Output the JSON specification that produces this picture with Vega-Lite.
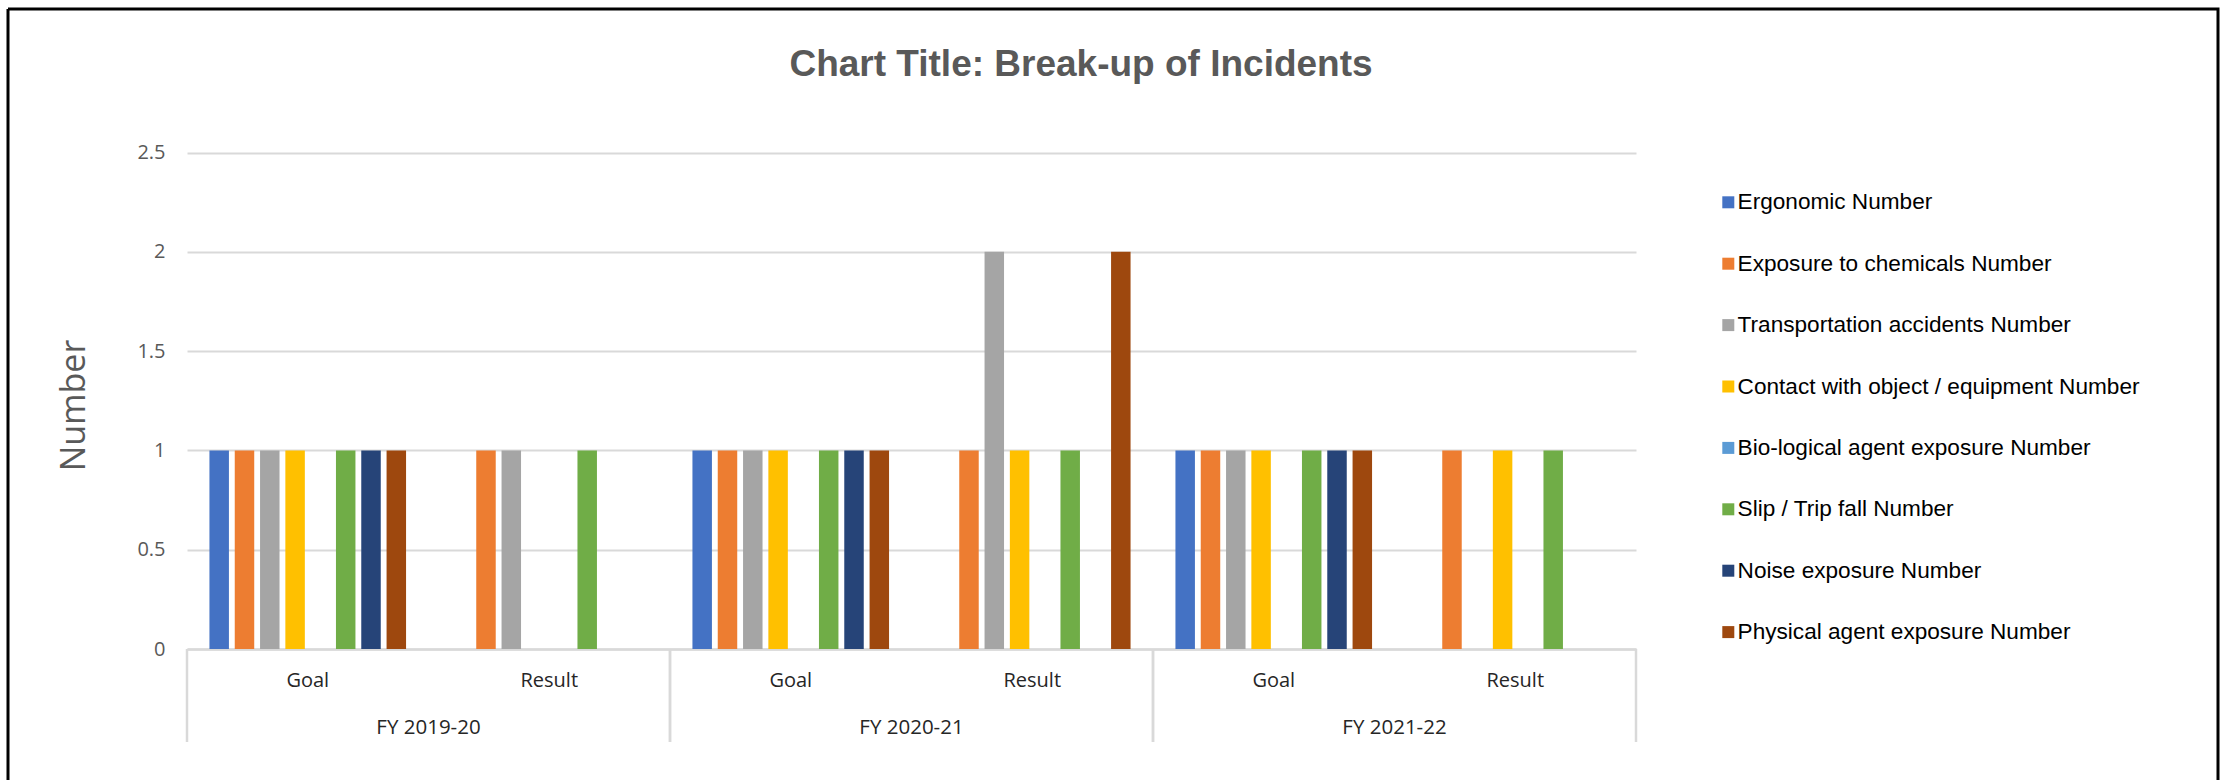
{
  "$schema": "https://vega.github.io/schema/vega-lite/v6.json",
  "autosize": "none",
  "width": 2210,
  "height": 771,
  "padding": {"left": 8, "top": 9, "right": 8, "bottom": 0},
  "background": "white",
  "config": {
    "view": {"stroke": "#000000", "strokeWidth": 3, "strokeDash": [2981, 2210, 771, 0], "fill": null}
  },
  "title": {
    "text": "Chart Title: Break-up of Incidents",
    "font": "Liberation Sans",
    "fontSize": 37,
    "fontWeight": "bold",
    "color": "#595959",
    "anchor": "middle",
    "frame": "group",
    "orient": "top",
    "baseline": "alphabetic",
    "offset": -104,
    "dx": -32
  },
  "datasets": {
    "incidents": [
      {"period": "FY 2019-20|Goal", "series": "Ergonomic Number", "value": 1},
      {"period": "FY 2019-20|Goal", "series": "Exposure to chemicals Number", "value": 1},
      {"period": "FY 2019-20|Goal", "series": "Transportation accidents Number", "value": 1},
      {"period": "FY 2019-20|Goal", "series": "Contact with object / equipment Number", "value": 1},
      {"period": "FY 2019-20|Goal", "series": "Slip / Trip fall Number", "value": 1},
      {"period": "FY 2019-20|Goal", "series": "Noise exposure Number", "value": 1},
      {"period": "FY 2019-20|Goal", "series": "Physical agent exposure Number", "value": 1},
      {"period": "FY 2019-20|Result", "series": "Exposure to chemicals Number", "value": 1},
      {"period": "FY 2019-20|Result", "series": "Transportation accidents Number", "value": 1},
      {"period": "FY 2019-20|Result", "series": "Slip / Trip fall Number", "value": 1},
      {"period": "FY 2020-21|Goal", "series": "Ergonomic Number", "value": 1},
      {"period": "FY 2020-21|Goal", "series": "Exposure to chemicals Number", "value": 1},
      {"period": "FY 2020-21|Goal", "series": "Transportation accidents Number", "value": 1},
      {"period": "FY 2020-21|Goal", "series": "Contact with object / equipment Number", "value": 1},
      {"period": "FY 2020-21|Goal", "series": "Slip / Trip fall Number", "value": 1},
      {"period": "FY 2020-21|Goal", "series": "Noise exposure Number", "value": 1},
      {"period": "FY 2020-21|Goal", "series": "Physical agent exposure Number", "value": 1},
      {"period": "FY 2020-21|Result", "series": "Exposure to chemicals Number", "value": 1},
      {"period": "FY 2020-21|Result", "series": "Transportation accidents Number", "value": 2},
      {"period": "FY 2020-21|Result", "series": "Contact with object / equipment Number", "value": 1},
      {"period": "FY 2020-21|Result", "series": "Slip / Trip fall Number", "value": 1},
      {"period": "FY 2020-21|Result", "series": "Physical agent exposure Number", "value": 2},
      {"period": "FY 2021-22|Goal", "series": "Ergonomic Number", "value": 1},
      {"period": "FY 2021-22|Goal", "series": "Exposure to chemicals Number", "value": 1},
      {"period": "FY 2021-22|Goal", "series": "Transportation accidents Number", "value": 1},
      {"period": "FY 2021-22|Goal", "series": "Contact with object / equipment Number", "value": 1},
      {"period": "FY 2021-22|Goal", "series": "Slip / Trip fall Number", "value": 1},
      {"period": "FY 2021-22|Goal", "series": "Noise exposure Number", "value": 1},
      {"period": "FY 2021-22|Goal", "series": "Physical agent exposure Number", "value": 1},
      {"period": "FY 2021-22|Result", "series": "Exposure to chemicals Number", "value": 1},
      {"period": "FY 2021-22|Result", "series": "Contact with object / equipment Number", "value": 1},
      {"period": "FY 2021-22|Result", "series": "Slip / Trip fall Number", "value": 1}
    ],
    "years": [
      {"fy": "FY 2019-20", "goal": "FY 2019-20|Goal", "result": "FY 2019-20|Result"},
      {"fy": "FY 2020-21", "goal": "FY 2020-21|Goal", "result": "FY 2020-21|Result"},
      {"fy": "FY 2021-22", "goal": "FY 2021-22|Goal", "result": "FY 2021-22|Result"}
    ]
  },
  "layer": [
    {
      "data": {"name": "incidents"},
      "mark": {"type": "bar"},
      "encoding": {
        "x": {
          "field": "period",
          "type": "nominal",
          "scale": {
            "domain": ["FY 2019-20|Goal", "FY 2019-20|Result", "FY 2020-21|Goal", "FY 2020-21|Result", "FY 2021-22|Goal", "FY 2021-22|Result"],
            "range": [179, 1628],
            "paddingInner": 0,
            "paddingOuter": 0
          },
          "axis": {
            "title": null,
            "orient": "bottom",
            "offset": -131,
            "labelExpr": "split(datum.value, '|')[1]",
            "labelAngle": 0,
            "labelFont": "Open Sans",
            "labelFontSize": 20,
            "labelColor": "#262626",
            "labelBaseline": "middle",
            "labelPadding": 31,
            "ticks": false,
            "tickSize": 0,
            "domainColor": "#D9D9D9",
            "domainWidth": 2.5,
            "grid": false
          }
        },
        "xOffset": {
          "field": "series",
          "type": "nominal",
          "scale": {
            "domain": ["Ergonomic Number", "Exposure to chemicals Number", "Transportation accidents Number", "Contact with object / equipment Number", "Bio-logical agent exposure Number", "Slip / Trip fall Number", "Noise exposure Number", "Physical agent exposure Number"],
            "paddingInner": 0.23,
            "paddingOuter": 0.887
          }
        },
        "y": {
          "field": "value",
          "type": "quantitative",
          "scale": {"domain": [0, 2.5], "range": [640, 143.5], "nice": false, "zero": true},
          "axis": {
            "title": "Number",
            "titleFont": "Open Sans",
            "titleFontSize": 34,
            "titleFontWeight": "normal",
            "titleColor": "#595959",
            "titleAngle": -90,
            "titleAlign": "center",
            "titleBaseline": "middle",
            "titleX": -113,
            "titleY": 396,
            "offset": -179,
            "values": [0, 0.5, 1, 1.5, 2, 2.5],
            "format": "~g",
            "labelFont": "Open Sans",
            "labelFontSize": 20,
            "labelColor": "#595959",
            "labelPadding": 22,
            "domain": false,
            "ticks": false,
            "tickSize": 0,
            "grid": true,
            "gridColor": "#D9D9D9",
            "gridWidth": 2
          }
        },
        "color": {
          "field": "series",
          "type": "nominal",
          "scale": {
            "domain": ["Ergonomic Number", "Exposure to chemicals Number", "Transportation accidents Number", "Contact with object / equipment Number", "Bio-logical agent exposure Number", "Slip / Trip fall Number", "Noise exposure Number", "Physical agent exposure Number"],
            "range": ["#4472C4", "#ED7D31", "#A5A5A5", "#FFC000", "#5B9BD5", "#70AD47", "#264478", "#9E480E"]
          },
          "legend": {
            "title": null,
            "orient": "none",
            "legendX": 1709,
            "legendY": 182,
            "padding": 0,
            "symbolType": "square",
            "symbolSize": 144,
            "symbolStrokeWidth": 0,
            "labelFont": "Liberation Sans",
            "labelFontSize": 22.6,
            "labelColor": "#000000",
            "labelOffset": -2,
            "labelLimit": 600,
            "rowPadding": 38.4
          }
        }
      }
    },
    {
      "data": {"name": "years"},
      "mark": {"type": "rule", "color": "#D9D9D9", "strokeWidth": 2.5, "y2Offset": 93},
      "encoding": {
        "x": {"field": "goal", "type": "nominal", "bandPosition": 0},
        "y": {"datum": 0},
        "y2": {"datum": 0}
      }
    },
    {
      "data": {"name": "years"},
      "mark": {"type": "rule", "color": "#D9D9D9", "strokeWidth": 2.5, "y2Offset": 93},
      "encoding": {
        "x": {"field": "result", "type": "nominal", "bandPosition": 1},
        "y": {"datum": 0},
        "y2": {"datum": 0}
      }
    },
    {
      "data": {"name": "years"},
      "mark": {"type": "text", "font": "Open Sans", "fontSize": 20.5, "color": "#262626", "align": "center", "baseline": "middle", "dy": 79},
      "encoding": {
        "x": {"field": "goal", "type": "nominal", "bandPosition": 1},
        "y": {"datum": 0},
        "text": {"field": "fy", "type": "nominal"}
      }
    }
  ]
}
